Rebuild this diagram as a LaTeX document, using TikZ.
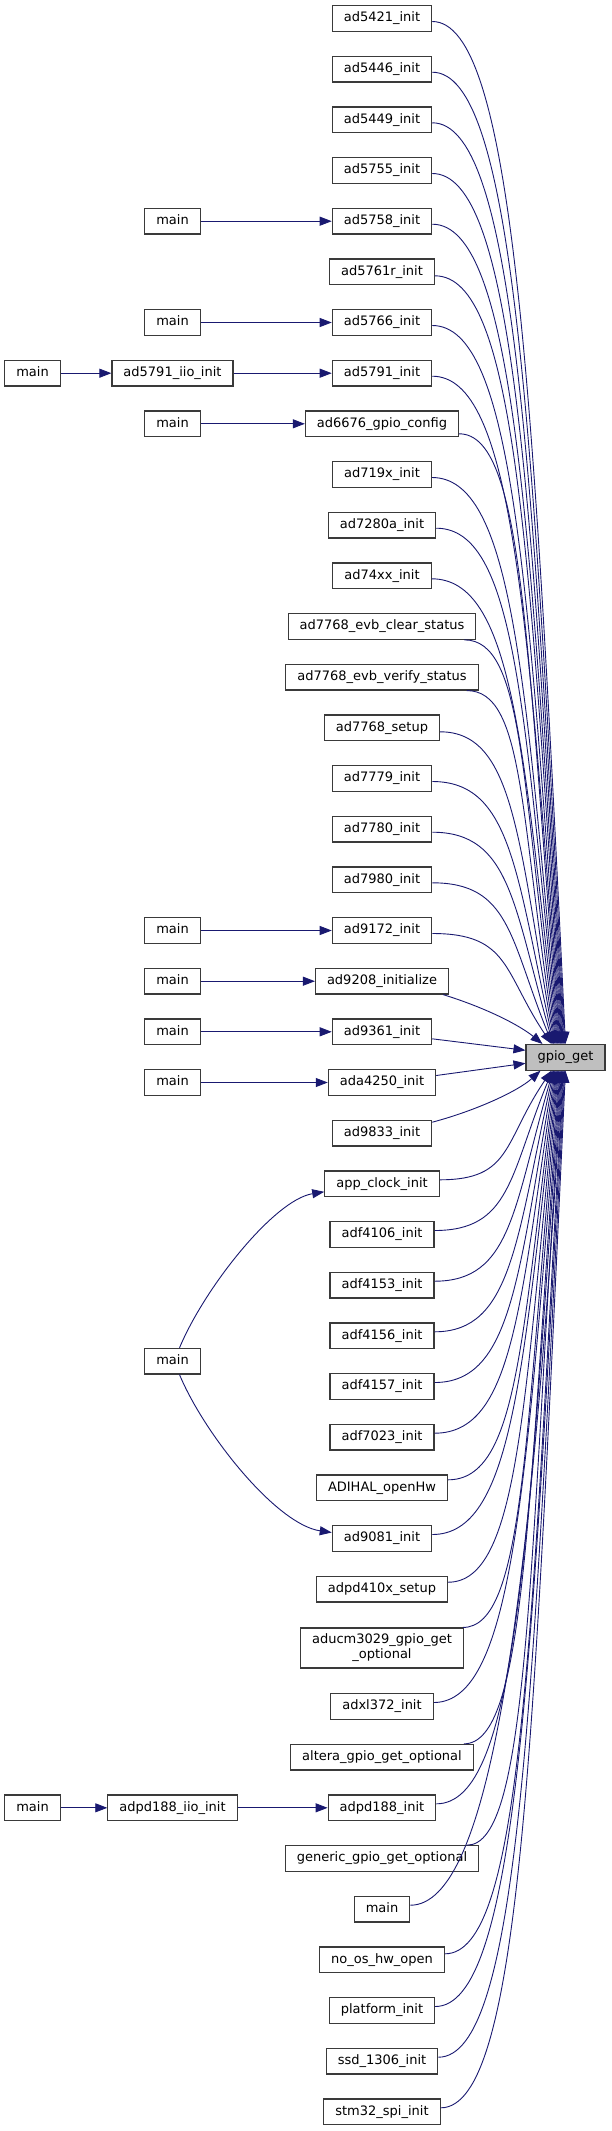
\documentclass[tikz,border=0pt]{standalone}
\usepackage{fontspec}
\setmainfont{DejaVu Sans}
\usetikzlibrary{arrows.meta,calc}
\definecolor{edgec}{HTML}{191970}
\definecolor{boxc}{HTML}{3A3A3A}
\definecolor{hl}{HTML}{BFBFBF}
\tikzset{
  fn/.style={draw=boxc, fill=white, line width=1.15pt, inner xsep=11.5pt, inner ysep=0pt,
    minimum height=25.6pt, font=\fontsize{13pt}{15pt}\selectfont, text height=9.5pt, text depth=3pt},
  fn2/.style={draw=boxc, fill=white, line width=1.15pt, inner xsep=11.5pt, inner ysep=0pt,
    minimum height=40pt, font=\fontsize{13pt}{15pt}\selectfont, align=center},
  edge/.style={draw=edgec, line width=0.9pt, -{Triangle[length=12pt,width=9pt,fill=edgec]}}
}
\newcommand\upE[2]{\draw[edge] let \p1=(#1), \p2=([xshift=#2pt]gpio.north west),
  \n1={abs(\y2-\y1)}, \n2={30+2000/\n1}, \n3={min(80,0.65*(\x2-\x1))} in
  (\p1) .. controls ({\x1+\n3},\y1) and ({\x2-\n2},{\y1+0.35*(\y2-\y1)}) .. (\p2);}
\newcommand\loE[2]{\draw[edge] let \p1=(#1), \p2=([xshift=#2pt]gpio.south west),
  \n1={abs(\y2-\y1)}, \n2={30+2000/\n1}, \n3={min(80,0.65*(\x2-\x1))} in
  (\p1) .. controls ({\x1+\n3},\y1) and ({\x2-\n2},{\y1+0.35*(\y2-\y1)}) .. (\p2);}
\begin{document}
\begin{tikzpicture}[x=1pt,y=-1pt]
\useasboundingbox (0,0) rectangle (611,2131);
% callee
\node[fn, fill=hl] (gpio) at (565.5,1057.3) {gpio\_get};
% column 3
\node[fn] (n0) at (382,18.5) {ad5421\_init};
\node[fn] (n1) at (382,69.2) {ad5446\_init};
\node[fn] (n2) at (382,119.8) {ad5449\_init};
\node[fn] (n3) at (382,170.5) {ad5755\_init};
\node[fn] (n4) at (382,221.2) {ad5758\_init};
\node[fn] (n5) at (382,271.8) {ad5761r\_init};
\node[fn] (n6) at (382,322.5) {ad5766\_init};
\node[fn] (n7) at (382,373.2) {ad5791\_init};
\node[fn] (n8) at (382,423.8) {ad6676\_gpio\_config};
\node[fn] (n9) at (382,474.5) {ad719x\_init};
\node[fn] (n10) at (382,525.2) {ad7280a\_init};
\node[fn] (n11) at (382,575.8) {ad74xx\_init};
\node[fn] (n12) at (382,626.5) {ad7768\_evb\_clear\_status};
\node[fn] (n13) at (382,677.2) {ad7768\_evb\_verify\_status};
\node[fn] (n14) at (382,727.8) {ad7768\_setup};
\node[fn] (n15) at (382,778.5) {ad7779\_init};
\node[fn] (n16) at (382,829.2) {ad7780\_init};
\node[fn] (n17) at (382,879.8) {ad7980\_init};
\node[fn] (n18) at (382,930.5) {ad9172\_init};
\node[fn] (n19) at (382,981.2) {ad9208\_initialize};
\node[fn] (n20) at (382,1031.8) {ad9361\_init};
\node[fn] (n21) at (382,1082.5) {ada4250\_init};
\node[fn] (n22) at (382,1133.2) {ad9833\_init};
\node[fn] (n23) at (382,1183.8) {app\_clock\_init};
\node[fn] (n24) at (382,1234.5) {adf4106\_init};
\node[fn] (n25) at (382,1285.2) {adf4153\_init};
\node[fn] (n26) at (382,1335.8) {adf4156\_init};
\node[fn] (n27) at (382,1386.5) {adf4157\_init};
\node[fn] (n28) at (382,1437.2) {adf7023\_init};
\node[fn] (n29) at (382,1487.8) {ADIHAL\_openHw};
\node[fn] (n30) at (382,1538.5) {ad9081\_init};
\node[fn] (n31) at (382,1589.2) {adpd410x\_setup};
\node[fn2] (n32) at (382,1648) {aducm3029\_gpio\_get\\\_optional};
\node[fn] (n33) at (382,1706.5) {adxl372\_init};
\node[fn] (n34) at (382,1757.2) {altera\_gpio\_get\_optional};
\node[fn] (n35) at (382,1807.8) {adpd188\_init};
\node[fn] (n36) at (382,1858.5) {generic\_gpio\_get\_optional};
\node[fn] (n37) at (382,1909.2) {main};
\node[fn] (n38) at (382,1959.8) {no\_os\_hw\_open};
\node[fn] (n39) at (382,2010.5) {platform\_init};
\node[fn] (n40) at (382,2061.2) {ssd\_1306\_init};
\node[fn] (n41) at (382,2111.8) {stm32\_spi\_init};
% column 2
\node[fn] (m4) at (172.5,221.2) {main};
\node[fn] (m6) at (172.5,322.5) {main};
\node[fn] (iio7) at (172.5,373.2) {ad5791\_iio\_init};
\node[fn] (m8) at (172.5,423.8) {main};
\node[fn] (m18) at (172.5,930.5) {main};
\node[fn] (m19) at (172.5,981.2) {main};
\node[fn] (m20) at (172.5,1031.8) {main};
\node[fn] (m21) at (172.5,1082.5) {main};
\node[fn] (m26) at (172.5,1361.2) {main};
\node[fn] (iio35) at (172.5,1807.8) {adpd188\_iio\_init};
% column 1
\node[fn] (m7) at (32.5,373.2) {main};
\node[fn] (m35) at (32.5,1807.8) {main};
% straight edges on the left
\draw[edge] (m4) -- (n4);
\draw[edge] (m6) -- (n6);
\draw[edge] (m7) -- (iio7);
\draw[edge] (iio7) -- (n7);
\draw[edge] (m8) -- (n8);
\draw[edge] (m18) -- (n18);
\draw[edge] (m19) -- (n19);
\draw[edge] (m20) -- (n20);
\draw[edge] (m21) -- (n21);
\draw[edge] (m35) -- (iio35);
\draw[edge] (iio35) -- (n35);
\draw[edge] ([xshift=7pt]m26.north) .. controls +(25,-60) and +(-50,8) .. ([yshift=-8pt]n23.west);
\draw[edge] ([xshift=7pt]m26.south) .. controls +(25,60) and +(-55,-8) .. ([yshift=6pt]n30.west);
% edges into gpio_get from above
\upE{[yshift=-3pt]n0.east}{40}
\upE{[yshift=-3pt]n1.east}{39.2}
\upE{[yshift=-3pt]n2.east}{38.4}
\upE{[yshift=-3pt]n3.east}{37.7}
\upE{[yshift=-3pt]n4.east}{36.9}
\upE{[yshift=-4pt]n5.east}{36.1}
\upE{[yshift=-3pt]n6.east}{35.3}
\upE{[yshift=-3pt]n7.east}{34.6}
\upE{[yshift=-10pt]n8.east}{33.8}
\upE{[yshift=-3pt]n9.east}{33}
\upE{[yshift=-3pt]n10.east}{32.2}
\upE{[yshift=-3pt]n11.east}{31.4}
\upE{[xshift=-12pt]n12.south east}{30.7}
\upE{[xshift=-12pt]n13.south east}{29.9}
\upE{[yshift=-4pt]n14.east}{29.1}
\upE{[yshift=-3pt]n15.east}{28.3}
\upE{[yshift=-3pt]n16.east}{27.6}
\upE{[yshift=-3pt]n17.east}{26.8}
\upE{[yshift=-3pt]n18.east}{26}
% near neighbours
\draw[edge] ([xshift=-6pt]n19.south east) .. controls +(45,14) and +(-22,-18) .. ([xshift=17pt]gpio.north west);
\draw[edge] ([yshift=-7pt]n20.east) -- ([yshift=7pt]gpio.west);
\draw[edge] ([yshift=7pt]n21.east) -- ([yshift=-6pt]gpio.west);
\draw[edge] ([yshift=11pt]n22.east) .. controls +(45,-12) and +(-22,20) .. ([xshift=15pt]gpio.south west);
% edges into gpio_get from below
\loE{[yshift=4pt]n23.east}{26}
\loE{[yshift=4pt]n24.east}{26.8}
\loE{[yshift=4pt]n25.east}{27.6}
\loE{[yshift=4pt]n26.east}{28.3}
\loE{[yshift=4pt]n27.east}{29.1}
\loE{[yshift=4pt]n28.east}{29.9}
\loE{[yshift=8pt]n29.east}{30.7}
\loE{[yshift=4pt]n30.east}{31.4}
\loE{[yshift=7pt]n31.east}{32.2}
\loE{[xshift=-1pt]n32.north east}{33}
\loE{[yshift=4pt]n33.east}{33.8}
\loE{[xshift=-10pt]n34.north east}{34.6}
\loE{[yshift=4pt]n35.east}{35.3}
\loE{[xshift=-12pt]n36.north east}{36.1}
\loE{[yshift=4pt]n37.east}{36.9}
\loE{[yshift=6pt]n38.east}{37.7}
\loE{[yshift=4pt]n39.east}{38.4}
\loE{[yshift=4pt]n40.east}{39.2}
\loE{[yshift=4pt]n41.east}{40}
\end{tikzpicture}
\end{document}
